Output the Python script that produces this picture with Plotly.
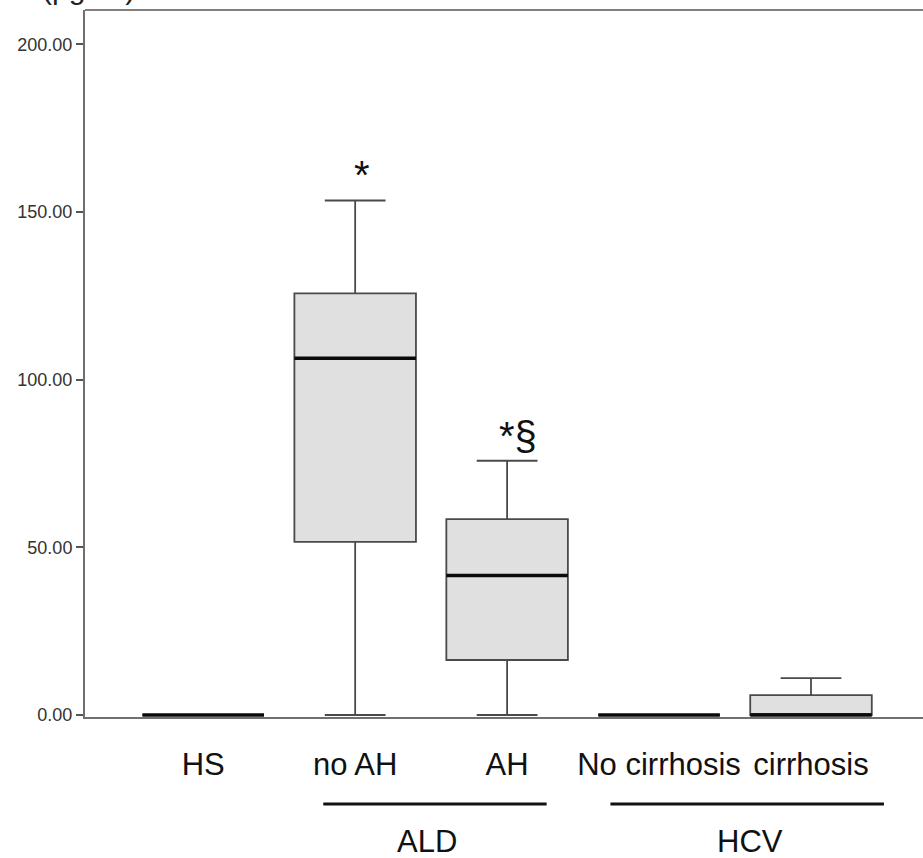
import plotly.graph_objects as go

categories = ["HS", "no AH", "AH", "No cirrhosis", "cirrhosis"]
lower = [0, 0, 0, 0, 0]
q1 = [0, 51.6, 16.4, 0, 0]
median = [0, 106.4, 41.6, 0, 0]
q3 = [0, 125.7, 58.4, 0, 5.9]
upper = [0, 153.4, 75.8, 0, 11.0]
marks = ["", "*", "*§", "", ""]
y_ticks = [0, 50, 100, 150, 200]
groups = ["ALD", "HCV"]
group_members = [[1, 2], [3, 4]]

xs = list(range(len(categories)))
BOX_W = 0.8
FONT = "Liberation Sans, Arial, sans-serif"

fig = go.Figure()
fig.add_trace(go.Box(
    x=xs, q1=q1, median=median, q3=q3, lowerfence=lower, upperfence=upper,
    width=BOX_W, whiskerwidth=0.5, fillcolor="#e0e0e0",
    line=dict(color="#4a4a4a", width=1.8), boxpoints=False,
    showlegend=False, hoverinfo="skip",
))

# thick black median lines
mx, my = [], []
for i, m in zip(xs, median):
    mx += [i - BOX_W / 2, i + BOX_W / 2, None]
    my += [m, m, None]
fig.add_trace(go.Scatter(x=mx, y=my, mode="lines", line=dict(color="#0a0a0a", width=3.5),
                         cliponaxis=False, showlegend=False, hoverinfo="skip"))

# significance marks
mark_dx = {1: 0.046, 2: 0.07}
mark_shift = {1: 2, 2: 1}
for i, (mk, u) in enumerate(zip(marks, upper)):
    if mk:
        fig.add_annotation(x=i + mark_dx[i], y=u, text=mk, showarrow=False,
                           yanchor="bottom", yshift=mark_shift[i],
                           font=dict(family=FONT, size=40, color="#111"))

# group lines and labels
group_spans = [(0.79, 2.26), (2.68, 4.48)]
group_text_x = [1.47, 3.6]
for g, (a, b), tx in zip(groups, group_spans, group_text_x):
    fig.add_shape(type="line", xref="x", yref="paper", x0=a, x1=b, y0=-0.123, y1=-0.123,
                  line=dict(color="#111", width=3))
    fig.add_annotation(x=tx, xref="x", yref="paper", y=-0.176, text=g, showarrow=False,
                       yanchor="middle", font=dict(family=FONT, size=31, color="#111"))

# top frame line
fig.add_shape(type="line", xref="paper", yref="paper", x0=0, x1=1, y0=1, y1=1,
              line=dict(color="#808080", width=2))

# cut-off unit label at top
fig.add_annotation(xref="paper", yref="paper", x=-0.054, xanchor="left", y=1.030, yanchor="middle",
                   text="(pg/ml)", showarrow=False, font=dict(family=FONT, size=30, color="#222"))

fig.update_layout(
    width=923, height=858,
    margin=dict(l=85, r=0, t=10, b=141),
    plot_bgcolor="white", paper_bgcolor="white",
    xaxis=dict(range=[-0.778, 4.737], tickvals=xs, ticktext=categories,
               showline=True, linecolor="#707070", linewidth=2, layer="below traces",
               ticks="outside", ticklen=19, tickcolor="rgba(0,0,0,0)",
               showgrid=False, zeroline=False,
               tickfont=dict(family=FONT, size=31, color="#111")),
    yaxis=dict(range=[-0.6, 210.2], tickvals=y_ticks, tickformat=".2f",
               showline=True, linecolor="#707070", linewidth=2,
               ticks="outside", ticklen=7, tickwidth=2, tickcolor="#555",
               showgrid=False, zeroline=False,
               tickfont=dict(family=FONT, size=18, color="#333")),
)

fig.write_html("out.html", config={"displayModeBar": False},
               post_script="document.body.style.margin='0';")
